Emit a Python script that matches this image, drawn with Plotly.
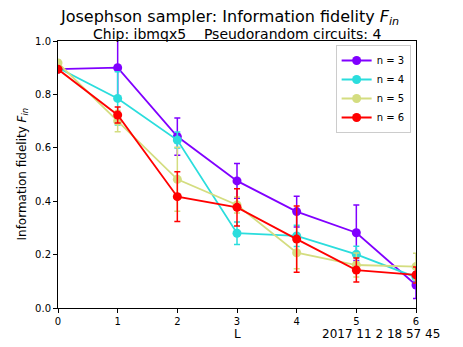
import plotly.graph_objects as go

# valores
L = [0, 1, 2, 3, 4, 5, 6]

f_n3 = [0.895, 0.900, 0.642, 0.476, 0.361, 0.282, 0.086]
e_n3 = [0.010, 0.120, 0.070, 0.065, 0.058, 0.104, 0.050]

f_n4 = [0.900, 0.785, 0.629, 0.280, 0.270, 0.201, 0.115]
e_n4 = [0.010, 0.100, 0.030, 0.042, 0.040, 0.030, 0.020]

f_n5 = [0.918, 0.700, 0.482, 0.386, 0.207, 0.161, 0.155]
e_n5 = [0.010, 0.040, 0.120, 0.030, 0.060, 0.045, 0.050]

f_n6 = [0.894, 0.723, 0.417, 0.377, 0.258, 0.142, 0.124]
e_n6 = [0.010, 0.030, 0.093, 0.070, 0.124, 0.045, 0.030]

series = [
    ("n = 3", f_n3, e_n3, "#8000ff"),
    ("n = 4", f_n4, e_n4, "#2bdddd"),
    ("n = 5", f_n5, e_n5, "#d4dd80"),
    ("n = 6", f_n6, e_n6, "#ff0000"),
]

fig = go.Figure()

for name, f, e, color in series:
    fig.add_trace(
        go.Scatter(
            x=L,
            y=f,
            mode="lines+markers",
            name=name,
            line={"color": color, "width": 1.8},
            marker={"color": color, "size": 9},
            error_y={
                "type": "data",
                "array": e,
                "visible": True,
                "color": color,
                "thickness": 1.5,
                "width": 3,
            },
        )
    )

# la página añade ~8px de margen al cuerpo, se compensa aquí
fig.update_layout(
    width=463,
    height=347,
    margin={"l": 50, "r": 55, "t": 33, "b": 47},
    plot_bgcolor="white",
    paper_bgcolor="white",
    font={"family": "DejaVu Sans", "color": "black", "size": 10},
    showlegend=True,
    legend={
        "x": 0.985,
        "y": 0.985,
        "xanchor": "right",
        "yanchor": "top",
        "bgcolor": "white",
        "bordercolor": "#cccccc",
        "borderwidth": 1,
        "font": {"size": 10},
        "tracegroupgap": 0,
        "itemwidth": 30,
    },
    annotations=[
        dict(
            text="Josephson sampler: Information fidelity <i>F</i><sub><i>in</i></sub>",
            xref="paper", yref="paper", x=0.48, y=1 + 23.5 / 267,
            xanchor="center", yanchor="middle", showarrow=False,
            font={"size": 16},
        ),
        dict(
            text="Chip: ibmqx5    Pseudorandom circuits: 4",
            xref="paper", yref="paper", x=0.5, y=1 + 7 / 267,
            xanchor="center", yanchor="middle", showarrow=False,
            font={"size": 14},
        ),
        dict(
            text="Information fidelity <i>F</i><sub><i>in</i></sub>",
            xref="paper", yref="paper", x=-36 / 358, y=0.5,
            xanchor="center", yanchor="middle", textangle=-90, showarrow=False,
            font={"size": 12},
        ),
        dict(
            text="L",
            xref="paper", yref="paper", x=0.5, y=-26 / 267,
            xanchor="center", yanchor="middle", showarrow=False,
            font={"size": 12},
        ),
        dict(
            text="2017 11 2 18 57 45",
            xref="paper", yref="paper", x=(442 - 58) / 358, y=-26 / 267,
            xanchor="right", yanchor="middle", showarrow=False,
            font={"size": 12},
        ),
    ],
)

fig.update_xaxes(
    range=[0, 6],
    tickvals=L,
    showgrid=False,
    zeroline=False,
    showline=True,
    linecolor="black",
    linewidth=1,
    mirror=True,
    ticks="outside",
    ticklen=4,
    tickcolor="black",
)

fig.update_yaxes(
    range=[0, 1],
    tickvals=[0, 0.2, 0.4, 0.6, 0.8, 1.0],
    tickformat=".1f",
    showgrid=False,
    zeroline=False,
    showline=True,
    linecolor="black",
    linewidth=1,
    mirror=True,
    ticks="outside",
    ticklen=4,
    tickcolor="black",
)

fig.write_html("out.html")
